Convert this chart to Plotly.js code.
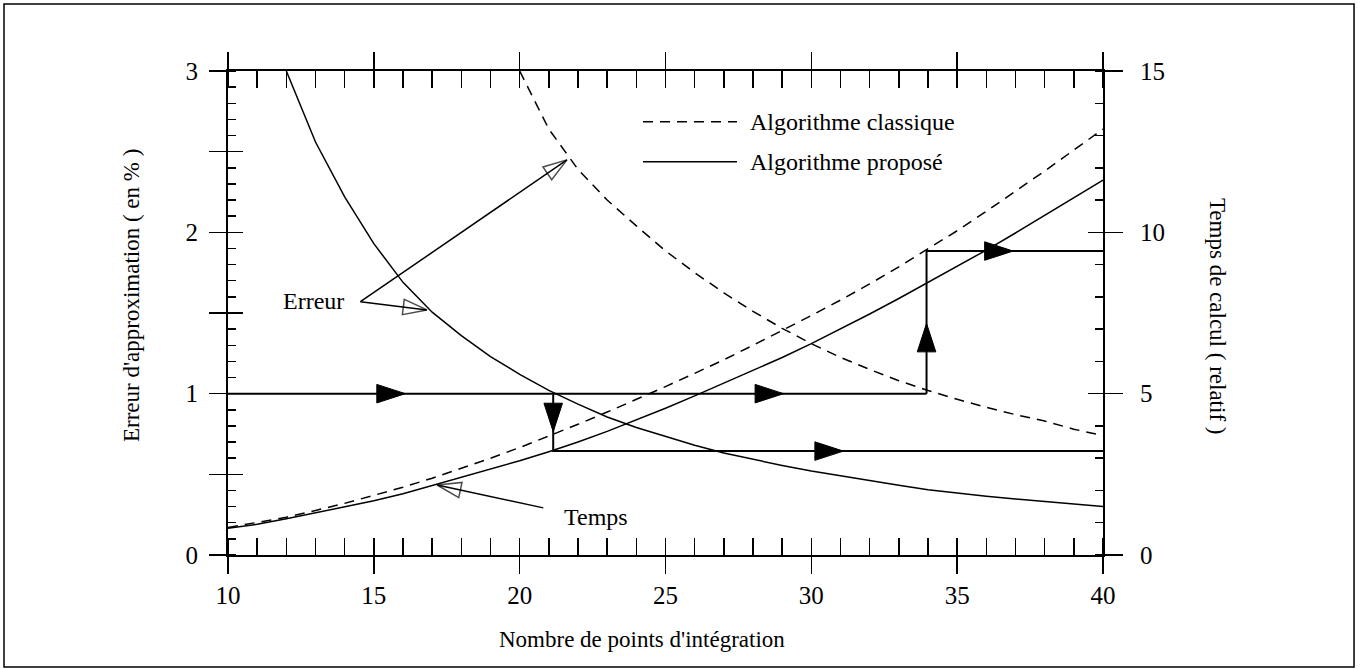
<!DOCTYPE html>
<html><head><meta charset="utf-8">
<script src="https://cdn.plot.ly/plotly-3.0.1.min.js"></script>
<style>html,body{margin:0;padding:0;background:#fff}#chart{width:1364px;height:669px}</style>
</head><body><div id="chart"></div>
<script>
// ---- data ----
const nPoints = [10,11,12,13,14,15,16,17,18,19,20,21,22,23,24,25,26,27,28,29,30,31,32,33,34,35,36,37,38,39,40];
// error (%) - proposed algorithm (solid), starting at 12 points
const errPropX = [12,13,14,15,16,17,18,19,20,21,22,23,24,25,26,27,28,29,30,31,32,33,34,35,36,37,38,39,40];
const errProp  = [3.0,2.56,2.22,1.93,1.69,1.505,1.36,1.23,1.12,1.02,0.935,0.855,0.79,0.735,0.68,0.632,0.592,0.555,0.52,0.49,0.46,0.432,0.405,0.383,0.364,0.347,0.331,0.315,0.30];
// error (%) - classic algorithm (dashed), starting at 20 points
const errClassX = [20,21,22,23,24,25,26,27,28,29,30,31,32,33,34,35,36,37,38,39,40];
const errClass  = [3.0,2.64,2.39,2.20,2.04,1.885,1.75,1.625,1.51,1.405,1.31,1.225,1.15,1.08,1.02,0.965,0.915,0.87,0.83,0.78,0.74];
// computing time (relative)
const timeProp  = [0.83,0.95,1.12,1.31,1.5,1.68,1.9,2.15,2.4,2.65,2.92,3.2,3.5,3.83,4.18,4.55,4.93,5.32,5.72,6.12,6.55,7.0,7.47,7.95,8.45,8.95,9.45,9.98,10.53,11.08,11.62];
const timeClass = [0.85,1.0,1.17,1.38,1.6,1.85,2.1,2.38,2.68,3.0,3.33,3.68,4.05,4.43,4.82,5.22,5.63,6.05,6.5,6.95,7.42,7.9,8.4,8.93,9.48,10.05,10.65,11.27,11.9,12.55,13.2];
// reading path (error threshold 1 % -> time)
const pathErrX = [10,16.08,29.05,33.95];
const pathErrY = [1,1,1,1];
const pathErrHead = [0,1,1,0];
const pathPropX = [21.15,21.15,21.15,31.1,40];
const pathPropT = [5,3.82,3.22,3.22,3.22];
const pathPropHead = [0,1,0,1,0];
const pathClassX = [33.95,33.95,33.95,36.92,40];
const pathClassT = [5,7.18,9.42,9.42,9.42];
const pathClassHead = [0,1,0,1,0];
// pointer arrows for the labels
const erreurFrom = [14.54,1.570];
const erreurToClass = [21.62,2.449];
const erreurToProp = [16.82,1.519];
const tempsFrom = [20.81,1.46];
const tempsTo = [17.17,2.17];
// labels
const xTitle = "Nombre de points d'intégration";
const yTitle = "Erreur d'approximation ( en % )";
const y2Title = "Temps de calcul ( relatif )";
const legendLabels = ["Algorithme classique","Algorithme proposé"];

const FONT = '"Liberation Serif","Times New Roman",serif';
const K = '#000';
const FILLED = 30, OPEN = 25;

const traces = [
  {x: errPropX, y: errProp, xaxis:'x', yaxis:'y', mode:'lines', line:{color:K,width:1.5}, hoverinfo:'skip'},
  {x: errClassX, y: errClass, xaxis:'x', yaxis:'y', mode:'lines', line:{color:K,width:1.5,dash:'10px,7px'}, hoverinfo:'skip'},
  {x: nPoints, y: timeProp, xaxis:'x', yaxis:'y2', mode:'lines', line:{color:K,width:1.5}, hoverinfo:'skip'},
  {x: nPoints, y: timeClass, xaxis:'x', yaxis:'y2', mode:'lines', line:{color:K,width:1.5,dash:'10px,7px'}, hoverinfo:'skip'},
  {x: pathErrX, y: pathErrY, xaxis:'x', yaxis:'y', mode:'lines+markers', line:{color:K,width:2,backoff:0},
   marker:{symbol:'arrow', angleref:'previous', color:K, opacity:1, line:{color:K,width:1}, size:pathErrHead.map(h=>h*FILLED)}, hoverinfo:'skip'},
  {x: pathPropX, y: pathPropT, xaxis:'x', yaxis:'y2', mode:'lines+markers', line:{color:K,width:2,backoff:0},
   marker:{symbol:'arrow', angleref:'previous', color:K, opacity:1, line:{color:K,width:1}, size:pathPropHead.map(h=>h*FILLED)}, hoverinfo:'skip'},
  {x: pathClassX, y: pathClassT, xaxis:'x', yaxis:'y2', mode:'lines+markers', line:{color:K,width:2,backoff:0},
   marker:{symbol:'arrow', angleref:'previous', color:K, opacity:1, line:{color:K,width:1}, size:pathClassHead.map(h=>h*FILLED)}, hoverinfo:'skip'},
  {x: [erreurFrom[0], erreurToClass[0]], y: [erreurFrom[1], erreurToClass[1]], xaxis:'x', yaxis:'y', mode:'lines+markers',
   line:{color:K,width:1.5}, marker:{symbol:'arrow-open', angleref:'previous', color:K, size:[0,OPEN], line:{color:K,width:1.5}}, hoverinfo:'skip'},
  {x: [erreurFrom[0], erreurToProp[0]], y: [erreurFrom[1], erreurToProp[1]], xaxis:'x', yaxis:'y', mode:'lines+markers',
   line:{color:K,width:1.5}, marker:{symbol:'arrow-open', angleref:'previous', color:K, size:[0,OPEN], line:{color:K,width:1.5}}, hoverinfo:'skip'},
  {x: [tempsFrom[0], tempsTo[0]], y: [tempsFrom[1], tempsTo[1]], xaxis:'x', yaxis:'y2', mode:'lines+markers',
   line:{color:K,width:1.5}, marker:{symbol:'arrow-open', angleref:'previous', color:K, size:[0,OPEN], line:{color:K,width:1.5}}, hoverinfo:'skip'},
  // carriers for the extra tick axes
  {x:[10,40], y:[null,null], xaxis:'x2', yaxis:'y3', mode:'lines', hoverinfo:'skip'},
  {x:[10,40], y:[null,null], xaxis:'x', yaxis:'y4', mode:'lines', hoverinfo:'skip'}
];

const tickfont = {family:FONT, size:25, color:K};
const layout = {
  width:1364, height:669, margin:{l:228, r:261, t:71, b:114},
  paper_bgcolor:'#fff', plot_bgcolor:'#fff', showlegend:false,
  font:{family:FONT, color:K},
  xaxis:{range:[10,40], tickmode:'linear', tick0:10, dtick:5, ticks:'outside', ticklen:17, tickwidth:1.5, tickcolor:K,
    showline:true, linewidth:2, linecolor:K, mirror:'allticks', showgrid:false, zeroline:false, tickfont:tickfont,
    minor:{tickmode:'linear', tick0:10, dtick:1, ticks:'inside', ticklen:8, tickwidth:1.5, tickcolor:K, showgrid:false},
    anchor:'y', fixedrange:true},
  xaxis2:{overlaying:'x', anchor:'y3', range:[10,40], tickmode:'linear', tick0:10, dtick:5, ticks:'inside', ticklen:15, tickwidth:1.5, tickcolor:K,
    showline:true, linewidth:2, linecolor:K, mirror:'allticks', showticklabels:false, showgrid:false, zeroline:false, fixedrange:true},
  yaxis:{range:[0,3], tickmode:'linear', tick0:0, dtick:0.5, ticks:'outside', ticklen:17, tickwidth:1.5, tickcolor:K,
    labelalias:{'0.5':' ','1.5':' ','2.5':' '},
    showline:true, linewidth:2, linecolor:K, showgrid:false, zeroline:false, tickfont:tickfont, ticklabelstandoff:6,
    minor:{tickmode:'linear', tick0:0, dtick:0.1, ticks:'inside', ticklen:8, tickwidth:1.5, tickcolor:K, showgrid:false},
    anchor:'x', fixedrange:true},
  yaxis3:{overlaying:'y', anchor:'x2', side:'left', range:[0,3], tickmode:'linear', tick0:0, dtick:0.5, ticks:'inside', ticklen:15, tickwidth:1.5, tickcolor:K,
    showline:false, showticklabels:false, showgrid:false, zeroline:false, fixedrange:true},
  yaxis2:{overlaying:'y', anchor:'x', side:'right', range:[0,15], tickmode:'linear', tick0:0, dtick:5, ticks:'outside', ticklen:18, tickwidth:1.5, tickcolor:K,
    showline:true, linewidth:2, linecolor:K, showgrid:false, zeroline:false, tickfont:tickfont, ticklabelstandoff:12,
    minor:{tickmode:'linear', tick0:0, dtick:1, ticks:'inside', ticklen:8, tickwidth:1.5, tickcolor:K, showgrid:false}, fixedrange:true},
  yaxis4:{overlaying:'y', anchor:'x', side:'right', range:[0,15], tickmode:'linear', tick0:0, dtick:5, ticks:'inside', ticklen:15, tickwidth:1.5, tickcolor:K,
    showline:false, showticklabels:false, showgrid:false, zeroline:false, fixedrange:true},
  shapes:[
    {type:'rect', xref:'paper', yref:'paper', x0:-0.256, x1:1.2869, y0:-0.2314, y1:1.1384, line:{color:K,width:1.5}, layer:'above'},
    {type:'line', xref:'paper', yref:'paper', x0:0.4743, x1:0.5817, y0:0.8953, y1:0.8953, line:{color:K,width:1.5,dash:'10px,7px'}},
    {type:'line', xref:'paper', yref:'paper', x0:0.4743, x1:0.5817, y0:0.8126, y1:0.8126, line:{color:K,width:1.5}}
  ],
  annotations:[
    {text:xTitle, xref:'paper', yref:'paper', x:0.473, y:-0.1756, showarrow:false, xanchor:'center', yanchor:'middle', font:{family:FONT,size:23,color:K}},
    {text:yTitle, xref:'paper', yref:'paper', x:-0.1109, y:0.537, textangle:-90, showarrow:false, xanchor:'center', yanchor:'middle', font:{family:FONT,size:23,color:K}},
    {text:y2Title, xref:'paper', yref:'paper', x:1.1303, y:0.494, textangle:90, showarrow:false, xanchor:'center', yanchor:'middle', font:{family:FONT,size:23,color:K}},
    {text:legendLabels[0], xref:'paper', yref:'paper', x:0.5943, y:0.8953, xanchor:'left', yanchor:'middle', showarrow:false, font:{family:FONT,size:24,color:K}},
    {text:legendLabels[1], xref:'paper', yref:'paper', x:0.5943, y:0.8126, xanchor:'left', yanchor:'middle', showarrow:false, font:{family:FONT,size:24,color:K}},
    {text:'Erreur', xref:'x', yref:'y', x:12.93, y:1.573, xanchor:'center', yanchor:'middle', showarrow:false, font:{family:FONT,size:24,color:K}},
    {text:'Temps', xref:'x', yref:'y2', x:22.63, y:1.18, xanchor:'center', yanchor:'middle', showarrow:false, font:{family:FONT,size:24,color:K}}
  ]
};
Plotly.newPlot('chart', traces, layout, {displayModeBar:false, staticPlot:true});
</script>
</body></html>
